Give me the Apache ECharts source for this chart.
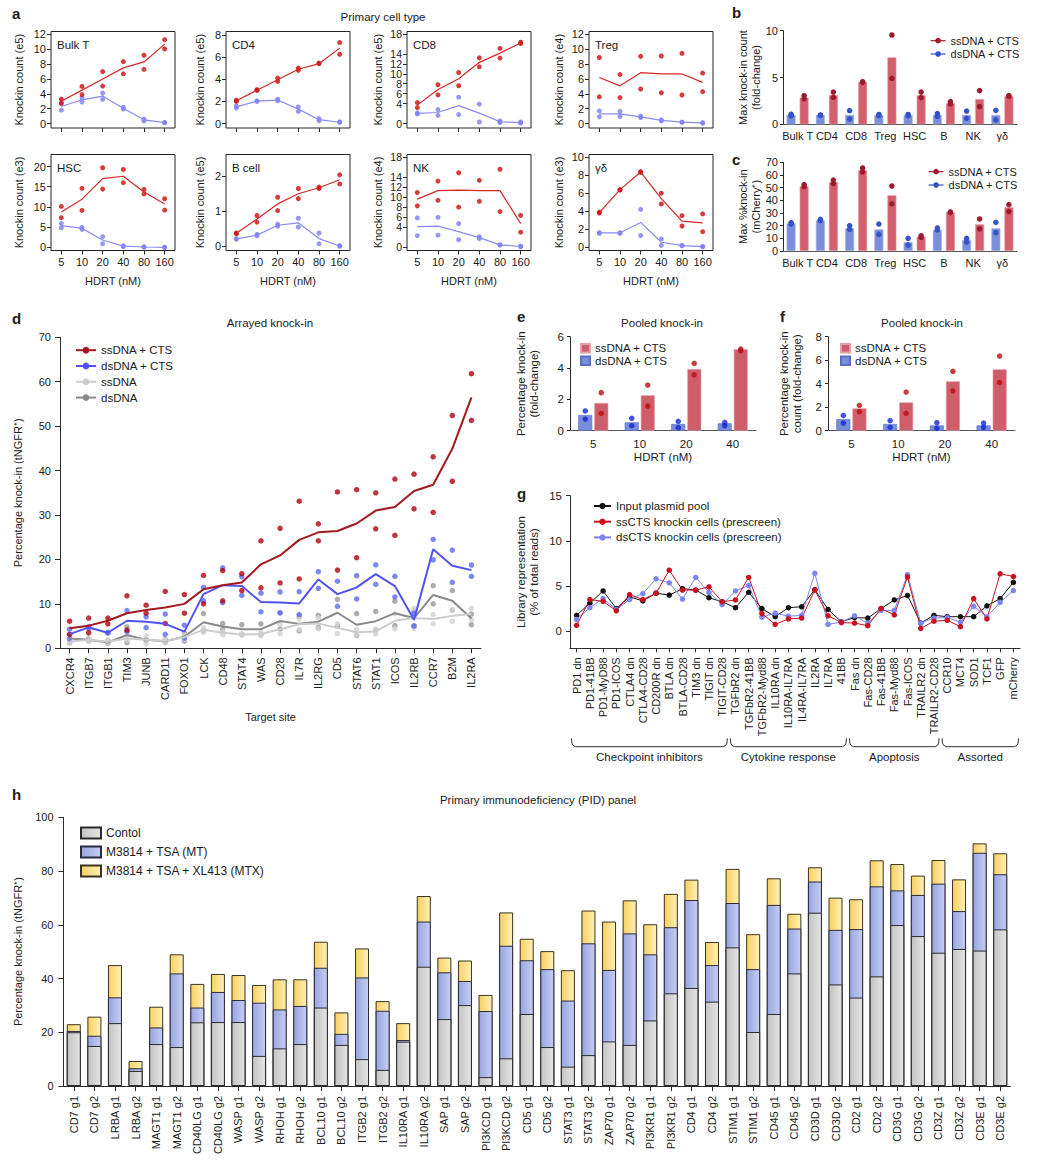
<!DOCTYPE html>
<html>
<head>
<meta charset="utf-8">
<title>Figure</title>
<script src="https://cdn.jsdelivr.net/npm/echarts@6.0.0/dist/echarts.min.js"></script>
<style>
html,body{margin:0;padding:0;background:#ffffff;}
#chart{width:1038px;height:1163px;}
</style>
</head>
<body>
<div id="chart"></div>
<script>
// ================= DATA =================
// ---- Panel a (HDRT dose series, two replicates per dose + mean line) ----
const aDoses = ['5','10','20','40','80','160'];
const aTicks12 = [0,2,4,6,8,10,12];
const aTicks8 = [0,2,4,6,8];
const aTicks18 = [0,2,4,6,8,10,12,14,16,18];
const aTicks20 = [0,5,10,15,20];
const aTicks2 = [0,1,2];
const aTicks10 = [0,2,4,6,8,10];

const bulkTSsPts = [[3.3,2.7],[5.0,3.9],[7.0,5.05],[8.35,6.7],[9.2,7.3],[11.3,10.05]];
const bulkTSsLine = [3.0,4.5,6.0,7.5,8.3,10.7];
const bulkTDsPts = [[2.8,1.8],[3.45,2.9],[4.1,3.25],[2.2,1.95],[0.6,0.35],[0.15,0.1]];
const bulkTDsLine = [2.3,3.2,3.7,2.05,0.5,0.12];

const cd4SsPts = [[2.1,2.0],[3.05,3.0],[4.1,3.8],[5.0,4.8],[5.45,5.4],[7.3,6.25]];
const cd4SsLine = [2.05,3.0,3.95,4.9,5.4,6.8];
const cd4DsPts = [[1.6,1.4],[2.05,2.0],[2.2,2.05],[1.5,1.1],[0.45,0.25],[0.15,0.1]];
const cd4DsLine = [1.5,2.03,2.12,1.3,0.35,0.12];

const cd8SsPts = [[4.2,3.2],[7.8,5.75],[10.25,7.6],[13.2,11.4],[15.1,13.15],[16.35,16.05]];
const cd8SsLine = [3.7,6.85,9.0,12.3,14.15,16.2];
const cd8DsPts = [[2.15,1.9],[2.8,1.65],[5.3,1.8],[3.9,0.3],[0.5,0.2],[0.3,0.1]];
const cd8DsLine = [2.05,2.22,3.6,2.1,0.35,0.2];

const tregSsPts = [[8.9,3.6],[6.6,3.5],[9.05,4.65],[9.1,4.15],[9.45,3.85],[6.8,4.3]];
const tregSsLine = [6.2,5.08,6.85,6.7,6.68,5.55];
const tregDsPts = [[1.7,0.9],[1.65,0.95],[1.0,0.8],[0.5,0.35],[0.2,0.15],[0.12,0.05]];
const tregDsLine = [1.3,1.3,0.9,0.42,0.18,0.08];

const hscSsPts = [[10.1,7.3],[14.6,9.1],[19.7,14.4],[19.3,16.0],[14.3,13.2],[12.0,9.2]];
const hscSsLine = [8.7,11.9,17.0,17.6,13.7,10.7];
const hscDsPts = [[5.9,4.8],[4.9,4.4],[2.6,0.85],[0.3,0.15],[0.05,0.0],[0.0,-0.1]];
const hscDsLine = [5.35,4.65,1.75,0.25,0.02,-0.05];

const bcellSsPts = [[0.38,0.36],[0.88,0.69],[1.4,1.02],[1.65,1.36],[1.69,1.65],[2.04,1.78]];
const bcellSsLine = [0.37,0.78,1.21,1.5,1.67,1.9];
const bcellDsPts = [[0.22,0.2],[0.34,0.3],[0.63,0.57],[0.8,0.55],[0.38,0.07],[0.02,0.0]];
const bcellDsLine = [0.21,0.32,0.6,0.67,0.22,0.01];

const nkSsPts = [[10.9,8.25],[13.2,9.35],[14.85,8.0],[13.35,9.15],[15.55,7.1],[6.35,3.0]];
const nkSsLine = [9.6,11.3,11.4,11.3,11.3,4.7];
const nkDsPts = [[5.85,2.3],[5.95,2.4],[4.7,1.5],[2.1,1.7],[0.5,0.4],[0.2,0.1]];
const nkDsLine = [4.1,4.2,3.1,1.9,0.45,0.15];

const gdSsPts = [[3.9,3.8],[6.4,6.35],[8.4,8.3],[6.0,4.8],[3.5,2.35],[3.7,1.72]];
const gdSsLine = [3.85,6.4,8.35,5.4,2.9,2.7];
const gdDsPts = [[1.6,1.55],[1.6,1.55],[4.2,1.3],[0.92,0.2],[0.2,0.15],[0.08,0.05]];
const gdDsLine = [1.6,1.6,2.75,0.55,0.17,0.07];

// ---- Panels b, c ----
const bcCells = ['Bulk T','CD4','CD8','Treg','HSC','B','NK','γδ'];
const bDsBar = [1,1,1,1,1,1,1,1];
const bSsBar = [2.85,3.13,4.52,7.15,3.12,2.25,2.7,3.0];
const bDsPts = [[1.08,0.9],[1.0,0.95],[1.46,0.57],[1.05,0.92],[1.05,0.92],[1.14,0.84],[1.42,0.64],[1.49,0.47]];
const bSsPts = [[3.06,2.72],[3.45,2.88],[4.55,4.48],[9.54,4.91],[3.45,2.85],[2.42,2.17],[3.6,1.89],[3.05,3.0]];
const cDsBar = [21.8,24.2,17.9,17.1,7.1,16.6,8.7,17.9];
const cSsBar = [51.1,54.5,63.7,44.0,11.3,30.5,21.1,34.5];
const cDsPts = [[22.4,21.3],[25.0,24.0],[20.0,17.1],[21.3,13.2],[10.0,4.7],[18.2,16.6],[10.0,7.1],[22.6,14.5]];
const cSsPts = [[52.4,50.8],[56.0,53.2],[65.5,62.4],[51.3,37.1],[12.1,10.8],[30.8,30.3],[25.3,17.4],[36.6,31.1]];

// ---- Panel d ----
const dTargets = ['CXCR4','ITGB7','ITGB1','TIM3','JUNB','CARD11','FOXO1','LCK','CD48','STAT4','WAS','CD28','IL7R','IL2RG','CD5','STAT6','STAT1','ICOS','IL2RB','CCR7','B2M','IL2RA'];
const dSsCtsLine = [4.5,5.1,6.2,7.9,8.6,9.2,10.0,13.3,14.2,14.8,18.9,20.9,24.4,26.1,26.4,28.1,31.0,31.8,35.4,36.8,44.9,56.5];
const dSsCtsPts = [[6.1,3.1],[6.8,3.5],[6.8,5.5],[11.8,4.1],[9.7,7.9],[12.8,5.6],[12.1,7.9],[16.4,10.0],[17.5,10.7],[16.8,13.0],[24.2,13.6],[27.0,14.7],[33.1,15.6],[28.0,24.2],[35.2,17.6],[35.7,20.4],[35.0,26.9],[38.1,25.4],[39.2,31.4],[43.1,30.6],[52.4,37.6],[61.8,51.3]];
const dDsCtsLine = [3.2,4.7,3.5,6.2,6.0,5.5,3.75,12.2,14.2,14.0,10.4,10.3,10.1,15.5,12.2,13.7,16.7,14.0,6.4,22.3,18.6,17.6];
const dDsCtsPts = [[4.3,2.1],[4.9,4.5],[3.6,3.4],[8.5,3.75],[7.1,4.65],[7.7,3.15],[5.2,2.3],[13.7,10.7],[18.1,10.3],[16.1,11.9],[12.4,8.2],[12.7,8.0],[12.75,7.6],[17.25,13.5],[15.1,9.45],[16.35,11.1],[18.8,14.4],[16.2,11.55],[7.8,5.0],[24.5,19.9],[22.1,14.85],[18.75,16.2]];
const dSsLine = [1.5,1.9,1.5,2.2,1.9,1.7,2.5,4.2,3.5,3.1,3.2,4.3,5.4,5.6,4.6,3.6,3.8,6.2,6.8,6.6,7.3,7.7];
const dSsPts = [[1.8,1.2],[2.3,1.6],[1.9,1.2],[2.7,1.8],[2.8,1.0],[2.2,1.3],[3.0,2.0],[4.6,3.6],[3.8,3.0],[3.3,3.0],[3.5,2.8],[5.4,3.3],[6.6,4.2],[6.8,4.4],[5.5,3.3],[4.2,3.0],[4.3,3.2],[7.8,4.4],[9.0,4.5],[7.6,5.5],[8.6,6.1],[9.0,6.4]];
const dDsLine = [2.2,1.9,1.3,3.0,1.9,1.6,2.6,5.85,4.9,4.3,4.3,6.15,5.5,6.0,8.0,5.3,6.1,7.9,6.8,12.0,10.7,6.7];
const dDsPts = [[3.2,1.2],[2.2,1.6],[1.6,1.1],[4.8,1.3],[2.0,1.8],[2.0,1.3],[3.5,1.6],[7.8,3.9],[5.6,4.2],[5.3,3.1],[5.5,3.1],[8.0,4.3],[7.2,3.9],[7.4,4.7],[11.0,5.0],[7.8,2.9],[8.3,4.0],[10.6,5.1],[8.4,5.1],[14.1,10.0],[13.0,8.6],[7.7,5.3]];

// ---- Panels e, f ----
const efDoses = ['5','10','20','40'];
const eDsBar = [1.0,0.53,0.43,0.47];
const eSsBar = [1.77,2.26,3.94,5.21];
const eDsPts = [[1.26,0.74],[0.79,0.32],[0.6,0.19],[0.32,0.53]];
const eSsPts = [[2.43,1.1],[2.91,1.57],[4.3,3.57],[5.1,5.21]];
const fDsBar = [0.99,0.57,0.45,0.45];
const fSsBar = [1.9,2.41,4.2,5.22];
const fDsPts = [[1.3,0.65],[0.85,0.28],[0.68,0.2],[0.65,0.28]];
const fSsPts = [[2.16,1.62],[3.29,1.48],[5.05,3.38],[6.35,4.11]];

// ---- Panel g ----
const gLabels = ['PD1 dn','PD1-41BB','PD1-MyD88','PD1-ICOS','CTLA4 dn','CTLA4-CD28','CD200R dn','BTLA dn','BTLA-CD28','TIM3 dn','TIGIT dn','TIGIT-CD28','TGFbR2 dn','TGFbR2-41BB','TGFbR2-Myd88','IL10RA dn','IL10RA-IL7RA','IL4RA-IL7RA','IL2RA','IL7RA','41BB','Fas dn','Fas-CD28','Fas-41BB','Fas-Myd88','Fas-ICOS','TRAILR2 dn','TRAILR2-CD28','CCR10','MCT4','SOD1','TCF1','GFP','mCherry'];
const gInput = [1.75,3.1,4.45,2.5,3.8,3.35,4.2,4.0,4.7,4.55,3.7,3.25,2.6,4.3,2.5,1.6,2.6,2.7,4.6,2.4,1.05,1.5,1.45,2.5,3.45,3.95,0.9,1.75,1.6,1.6,1.6,2.8,3.6,5.4];
const gSsCts = [0.65,3.5,3.3,2.25,4.05,3.5,4.2,6.75,4.55,4.55,4.9,3.25,3.45,5.95,1.95,0.75,1.35,1.45,4.55,1.7,0.95,0.9,0.6,2.5,1.8,6.0,0.3,1.1,1.2,0.5,3.6,1.35,6.35,6.05];
const gDsCts = [1.3,2.6,3.6,2.4,3.5,4.15,5.8,5.35,3.55,5.95,4.3,2.95,4.45,5.05,1.55,2.0,1.65,1.75,6.4,0.75,1.0,1.7,0.85,2.3,2.3,6.25,0.9,1.45,1.5,1.0,2.75,1.6,3.2,4.5];
const gGroups = ['Checkpoint inhibitors','Cytokine response','Apoptosis','Assorted'];
const gGroupFirst = ['PD1 dn','TGFbR2 dn','Fas dn','CCR10'];
const gGroupLast = ['TIGIT-CD28','41BB','TRAILR2-CD28','mCherry'];

// ---- Panel h ----
const hLabels = ['CD7 g1','CD7 g2','LRBA g1','LRBA g2','MAGT1 g1','MAGT1 g2','CD40LG g1','CD40LG g2','WASP g1','WASP g2','RHOH g1','RHOH g2','BCL10 g1','BCL10 g2','ITGB2 g1','ITGB2 g2','IL10RA g1','IL10RA g2','SAP g1','SAP g2','PI3KCD g1','PI3KCD g2','CD5 g1','CD5 g2','STAT3 g1','STAT3 g2','ZAP70 g1','ZAP70 g2','PI3KR1 g1','PI3KR1 g2','CD4 g1','CD4 g2','STIM1 g1','STIM1 g2','CD45 g1','CD45 g2','CD3D g1','CD3D g2','CD2 g1','CD2 g2','CD3G g1','CD3G g2','CD3Z g1','CD3Z g2','CD3E g1','CD3E g2'];
const hControl = [20.0,14.9,23.4,5.6,15.6,14.5,23.7,23.8,23.8,11.2,14.0,15.6,29.2,15.3,10.0,6.0,16.5,44.4,24.9,30.1,3.3,10.3,26.8,14.5,7.2,11.5,16.6,15.3,24.4,34.5,36.5,31.4,51.6,20.1,26.8,41.9,64.5,37.8,32.9,40.8,59.9,55.8,49.6,51.0,50.4,58.3];
const hMT = [20.5,18.7,33.0,6.6,21.8,41.9,29.2,35.0,32.0,31.0,28.5,29.8,44.0,19.4,40.4,28.0,17.1,61.2,42.3,39.1,27.9,52.2,46.8,43.5,31.8,53.1,43.2,56.8,49.0,59.1,69.2,45.0,68.1,43.5,67.4,58.6,76.1,58.1,58.4,74.3,72.8,71.1,75.3,65.1,86.8,78.8];
const hMTX = [23.0,25.8,45.0,9.3,29.5,49.0,38.0,41.7,41.3,37.6,39.7,39.7,53.7,27.4,51.2,31.6,23.4,70.7,47.8,46.7,33.9,64.6,54.8,50.2,43.1,65.3,61.2,69.1,60.2,71.5,76.8,53.6,80.8,56.5,77.3,64.1,81.4,70.1,69.5,84.0,82.6,78.3,84.1,76.9,90.3,86.6];

// ================= BUILD =================
const FONT = '"Liberation Sans", Arial, Helvetica, sans-serif';
const TXT = '#1b1b1b';
const AX = '#2b2b2b';
const option = {animation:false, backgroundColor:'#ffffff', textStyle:{fontFamily:FONT, color:TXT},
  grid:[], xAxis:[], yAxis:[], series:[], legend:[]};
const graphics = [];
const nameFmt = function(n){ return n.split('#')[0]; };

function addGrid(g){ option.grid.push(Object.assign({containLabel:false, outerBoundsMode:'none'}, g)); return option.grid.length-1; }
function addX(a){ option.xAxis.push(a); return option.xAxis.length-1; }
function addY(a){ option.yAxis.push(a); return option.yAxis.length-1; }
function txt(s, x, y, size, weight, align){
  graphics.push({type:'text', x:x, y:y, silent:true, z:10,
    style:{text:s, fill:TXT, fontSize:size, fontWeight:weight||'normal', fontFamily:FONT, align:align||'left', verticalAlign:'middle'}});
}
function pts(pairs){ const o=[]; pairs.forEach(function(p,i){ p.forEach(function(v){ o.push([i,v]); }); }); return o; }
function nts(size, lh){ return {color:TXT, fontSize:size||11, fontFamily:FONT, lineHeight:lh||13}; }
function lbl(size, margin, extra){ return Object.assign({color:TXT, fontSize:size||11, fontFamily:FONT, margin:margin, showMinLabel:true, showMaxLabel:true, hideOverlap:false}, extra||{}); }

// ---------- Panel a ----------
const A_LEFT = [51, 226, 407, 589], A_W = 124, A_TOP = [31.5, 154.5], A_H = [96.5, 96];
const A_GAP = [26, 20, 23, 24];
const aRed = '#cc0b0b', aRedLine = '#d42828', aBlue = '#7c7cf6', aBlueLine = '#8a8af6';
function panelA(col, row, label, unit, ssPts, ssLine, dsPts, dsLine, ymin, ymax, ticks, tickFont){
  const gi = addGrid({left:A_LEFT[col], top:A_TOP[row], width:A_W, height:A_H[row], show:true, borderColor:'#222', borderWidth:1});
  const xi = addX({gridIndex:gi, type:'category', data:aDoses, boundaryGap:true,
    axisLine:{show:false, onZero:false},
    axisTick:{show:true, alignWithLabel:true, length:4, lineStyle:{color:AX}},
    axisLabel:lbl(11, 6, {show:row===1, interval:0}), splitLine:{show:false},
    name:row===1?'HDRT (nM)':'', nameLocation:'middle', nameGap:24, nameTextStyle:nts(11), nameMoveOverlap:false});
  const yi = addY({gridIndex:gi, type:'value', min:ymin, max:ymax, splitLine:{show:false},
    axisLine:{show:false}, axisTick:{show:true, length:4, customValues:ticks, lineStyle:{color:AX}},
    axisLabel:lbl(tickFont||11, 5, {customValues:ticks}),
    name:'Knockin count ('+unit+')', nameLocation:'middle', nameGap:A_GAP[col], nameTextStyle:nts(11), nameMoveOverlap:false});
  option.series.push(
    {name:label+' ds line', type:'line', xAxisIndex:xi, yAxisIndex:yi, data:dsLine, symbol:'none', silent:true, lineStyle:{color:aBlueLine, width:1.2}, itemStyle:{color:aBlueLine}},
    {name:label+' ss line', type:'line', xAxisIndex:xi, yAxisIndex:yi, data:ssLine, symbol:'none', silent:true, lineStyle:{color:aRedLine, width:1.2}, itemStyle:{color:aRedLine}},
    {name:label+' ds pts', type:'scatter', xAxisIndex:xi, yAxisIndex:yi, data:pts(dsPts), symbolSize:5, silent:true, itemStyle:{color:aBlue}},
    {name:label+' ss pts', type:'scatter', xAxisIndex:xi, yAxisIndex:yi, data:pts(ssPts), symbolSize:5, silent:true, itemStyle:{color:aRed}}
  );
  txt(label, A_LEFT[col]+6, A_TOP[row]+13.5, 11.5);
}
panelA(0,0,'Bulk T','e5',bulkTSsPts,bulkTSsLine,bulkTDsPts,bulkTDsLine,-0.6,12.4,aTicks12);
panelA(1,0,'CD4','e5',cd4SsPts,cd4SsLine,cd4DsPts,cd4DsLine,-0.4,8.3,aTicks8);
panelA(2,0,'CD8','e5',cd8SsPts,cd8SsLine,cd8DsPts,cd8DsLine,-0.9,18.5,aTicks18,10.5);
panelA(3,0,'Treg','e4',tregSsPts,tregSsLine,tregDsPts,tregDsLine,-0.6,12.4,aTicks12);
panelA(0,1,'HSC','e3',hscSsPts,hscSsLine,hscDsPts,hscDsLine,-0.85,23.0,aTicks20);
panelA(1,1,'B cell','e5',bcellSsPts,bcellSsLine,bcellDsPts,bcellDsLine,-0.12,2.62,aTicks2);
panelA(2,1,'NK','e4',nkSsPts,nkSsLine,nkDsPts,nkDsLine,-0.66,18.5,aTicks18,10.5);
panelA(3,1,'γδ','e3',gdSsPts,gdSsLine,gdDsPts,gdDsLine,-0.37,10.3,aTicks10);

// ---------- Panels b, c ----------
const bcBlue = '#7a8edb', bcRed = '#d35f6c', bcBlueDot = '#3353c8', bcRedDot = '#9e1b2e';
function panelBC(tag, top, height, ymax, interval, yname, dsBar, ssBar, dsPts, ssPts, legLeft, legTop){
  const gi = addGrid({left:783, top:top, width:234, height:height});
  const xi = addX({gridIndex:gi, type:'category', data:bcCells, boundaryGap:true,
    axisLine:{show:true, lineStyle:{color:'#555', width:1}}, axisTick:{show:false},
    axisLabel:lbl(11, 6, {interval:0}), splitLine:{show:false}});
  const yi = addY({gridIndex:gi, type:'value', min:0, max:ymax, interval:interval, splitLine:{show:false},
    axisLine:{show:true, lineStyle:{color:AX}}, axisTick:{show:true, length:3, lineStyle:{color:AX}},
    axisLabel:lbl(11, 5), name:yname, nameLocation:'middle', nameGap:21, nameTextStyle:nts(11, 12.5), nameMoveOverlap:false});
  option.series.push(
    {name:'dsDNA bar#'+tag, type:'bar', xAxisIndex:xi, yAxisIndex:yi, data:dsBar, barWidth:9, barGap:'45%', silent:true,
      itemStyle:{color:bcBlue, borderColor:'#a9b5e6', borderWidth:0.6}},
    {name:'ssDNA bar#'+tag, type:'bar', xAxisIndex:xi, yAxisIndex:yi, data:ssBar, barWidth:9, barGap:'45%', silent:true,
      itemStyle:{color:bcRed, borderColor:'#e3a5ad', borderWidth:0.6}},
    {name:'dsDNA + CTS#'+tag, type:'line', xAxisIndex:xi, yAxisIndex:yi, data:pts(dsPts), symbol:'circle', symbolSize:5.5,
      symbolOffset:[-6.5,0], showSymbol:true, silent:true, z:5, lineStyle:{opacity:0, color:bcBlueDot, width:1.2},
      itemStyle:{color:bcBlueDot}},
    {name:'ssDNA + CTS#'+tag, type:'line', xAxisIndex:xi, yAxisIndex:yi, data:pts(ssPts), symbol:'circle', symbolSize:5.5,
      symbolOffset:[6.5,0], showSymbol:true, silent:true, z:5, lineStyle:{opacity:0, color:bcRedDot, width:1.2},
      itemStyle:{color:bcRedDot}}
  );
  option.legend.push({orient:'vertical', left:legLeft, top:legTop, padding:0, itemWidth:15, itemHeight:7, itemGap:1.3,
    selectedMode:false, formatter:nameFmt, textStyle:{fontSize:11, color:TXT, fontFamily:FONT, lineHeight:12},
    lineStyle:{opacity:1, width:1.2}, data:['ssDNA + CTS#'+tag, 'dsDNA + CTS#'+tag]});
}
panelBC('b', 30.7, 93.6, 10, 5, 'Max knock-in count\n(fold-change)', bDsBar, bSsBar, bDsPts, bSsPts, 930, 34.7);
panelBC('c', 162.3, 88.7, 70, 10, 'Max %knock-in\n(mCherry⁺)', cDsBar, cSsBar, cDsPts, cSsPts, 928, 165.7);

// ---------- Panel d ----------
(function(){
  const gi = addGrid({left:60, top:337.3, width:421, height:311});
  const xi = addX({gridIndex:gi, type:'category', data:dTargets, boundaryGap:true,
    axisLine:{show:true, onZero:false, lineStyle:{color:AX}}, axisTick:{show:true, alignWithLabel:true, length:5, lineStyle:{color:AX}},
    axisLabel:lbl(11, 9, {rotate:90, interval:0}), splitLine:{show:false},
    name:'Target site', nameLocation:'middle', nameGap:62, nameTextStyle:nts(11), nameMoveOverlap:false});
  const yi = addY({gridIndex:gi, type:'value', min:0, max:70, interval:10, splitLine:{show:false},
    axisLine:{show:true, lineStyle:{color:AX}}, axisTick:{show:true, length:5, lineStyle:{color:AX}},
    axisLabel:lbl(11, 9), name:'Percentage knock-in (tNGFR⁺)', nameLocation:'middle', nameGap:36, nameTextStyle:nts(11), nameMoveOverlap:false});
  const defs = [
    ['dsDNA#d', dDsLine, dDsPts, '#8a8a8a', '#999999'],
    ['ssDNA#d', dSsLine, dSsPts, '#cdcdcd', '#d2d2d2'],
    ['dsDNA + CTS#d', dDsCtsLine, dDsCtsPts, '#5252f2', '#5d69f2'],
    ['ssDNA + CTS#d', dSsCtsLine, dSsCtsPts, '#a3181e', '#b1000e']
  ];
  defs.forEach(function(d){
    option.series.push({name:d[0], type:'line', xAxisIndex:xi, yAxisIndex:yi, data:d[1], symbol:'none', silent:true,
      lineStyle:{color:d[3], width:2}, itemStyle:{color:d[3]}});
  });
  defs.forEach(function(d){
    option.series.push({name:d[0]+' pts', type:'scatter', xAxisIndex:xi, yAxisIndex:yi, data:pts(d[2]), symbolSize:5.5, silent:true,
      itemStyle:{color:d[4]}});
  });
  option.legend.push({orient:'vertical', left:75, top:343.7, padding:0, itemWidth:20, itemHeight:8.5, itemGap:2.8,
    selectedMode:false, formatter:nameFmt, textStyle:{fontSize:11.5, color:TXT, fontFamily:FONT, lineHeight:13},
    lineStyle:{width:2}, data:['ssDNA + CTS#d','dsDNA + CTS#d','ssDNA#d','dsDNA#d']});
})();

// ---------- Panels e, f ----------
const efBlue = '#7a8ddb', efRed = '#d05d6a', efBlueDot = '#1326cf', efRedDot = '#bb0a14';
function panelEF(tag, left, width, ymax, yname, nameGap, dsBar, ssBar, dsPts, ssPts, legLeft){
  const gi = addGrid({left:left, top:336.7, width:width, height:94});
  const xi = addX({gridIndex:gi, type:'category', data:efDoses, boundaryGap:true,
    axisLine:{show:true, lineStyle:{color:'#555'}}, axisTick:{show:false},
    axisLabel:lbl(11.5, 7.5, {interval:0}), splitLine:{show:false},
    name:'HDRT (nM)', nameLocation:'middle', nameGap:20, nameTextStyle:nts(11.5), nameMoveOverlap:false});
  const yi = addY({gridIndex:gi, type:'value', min:0, max:ymax, interval:2, splitLine:{show:false},
    axisLine:{show:true, lineStyle:{color:AX}}, axisTick:{show:true, length:3, lineStyle:{color:AX}},
    axisLabel:lbl(11.5, 6), name:yname, nameLocation:'middle', nameGap:nameGap, nameTextStyle:nts(11.5, 12.5), nameMoveOverlap:false});
  option.series.push(
    {name:'dsDNA + CTS#'+tag, type:'bar', xAxisIndex:xi, yAxisIndex:yi, data:dsBar, barWidth:14, barGap:'15%', silent:true,
      itemStyle:{color:efBlue, borderColor:'#5a6fc4', borderWidth:0.6}},
    {name:'ssDNA + CTS#'+tag, type:'bar', xAxisIndex:xi, yAxisIndex:yi, data:ssBar, barWidth:14, barGap:'15%', silent:true,
      itemStyle:{color:efRed, borderColor:'#e0a2a9', borderWidth:0.6}},
    {name:'ds pts#'+tag, type:'scatter', xAxisIndex:xi, yAxisIndex:yi, data:pts(dsPts), symbolSize:5.5, symbolOffset:[-8,0], silent:true, z:5,
      itemStyle:{color:efBlueDot}},
    {name:'ss pts#'+tag, type:'scatter', xAxisIndex:xi, yAxisIndex:yi, data:pts(ssPts), symbolSize:5.5, symbolOffset:[8,0], silent:true, z:5,
      itemStyle:{color:efRedDot}}
  );
  option.legend.push({orient:'vertical', left:legLeft, top:342.3, padding:0, itemWidth:9, itemHeight:8.5, itemGap:0.4, icon:'rect',
    selectedMode:false, formatter:nameFmt, textStyle:{fontSize:11.5, color:TXT, fontFamily:FONT, lineHeight:12},
    data:['ssDNA + CTS#'+tag, 'dsDNA + CTS#'+tag]});
}
panelEF('e', 570, 186, 6, 'Percentage knock-in\n(fold-change)', 30, eDsBar, eSsBar, eDsPts, eSsPts, 580);
panelEF('f', 828, 187, 8, 'Percentage knock-in\ncount (fold-change)', 25, fDsBar, fSsBar, fDsPts, fSsPts, 840);

// ---------- Panel g ----------
let gXIndex = 0;
(function(){
  const gi = addGrid({left:570, top:495.7, width:450, height:152.6});
  const xi = addX({gridIndex:gi, type:'category', data:gLabels, boundaryGap:true,
    axisLine:{show:true, onZero:false, lineStyle:{color:AX}}, axisTick:{show:true, alignWithLabel:true, length:4, lineStyle:{color:AX}},
    axisLabel:lbl(11, 9, {rotate:90, interval:0}), splitLine:{show:false}});
  gXIndex = xi;
  const yi = addY({gridIndex:gi, type:'value', min:-1.9, max:15, splitLine:{show:false},
    axisLine:{show:true, lineStyle:{color:AX}}, axisTick:{show:true, length:4, customValues:[0,5,10,15], lineStyle:{color:AX}},
    axisLabel:lbl(11.5, 8, {customValues:[0,5,10,15]}),
    name:'Library representation\n(% of total reads)', nameLocation:'middle', nameGap:30, nameTextStyle:nts(11.5, 12.5), nameMoveOverlap:false});
  const defs = [
    ['Input plasmid pool', gInput, '#111111'],
    ['dsCTS knockin cells (prescreen)', gDsCts, '#7b85f3'],
    ['ssCTS knockin cells (prescreen)', gSsCts, '#cc1020']
  ];
  defs.forEach(function(d){
    option.series.push({name:d[0], type:'line', xAxisIndex:xi, yAxisIndex:yi, data:d[1], symbol:'circle', symbolSize:5.5,
      showSymbol:true, silent:true, lineStyle:{color:d[2], width:1}, itemStyle:{color:d[2]}});
  });
  option.legend.push({orient:'vertical', left:593, top:499.5, padding:0, itemWidth:17, itemHeight:8, itemGap:2.7,
    selectedMode:false, textStyle:{fontSize:11.5, color:TXT, fontFamily:FONT, lineHeight:13},
    data:['Input plasmid pool','ssCTS knockin cells (prescreen)','dsCTS knockin cells (prescreen)']});
})();

// ---------- Panel h ----------
(function(){
  const gi = addGrid({left:63.5, top:817.3, width:947, height:268.7});
  const xi = addX({gridIndex:gi, type:'category', data:hLabels, boundaryGap:true,
    axisLine:{show:true, lineStyle:{color:AX}}, axisTick:{show:true, alignWithLabel:true, length:5, lineStyle:{color:AX}},
    axisLabel:lbl(11, 10, {rotate:90, interval:0}), splitLine:{show:false}});
  const yi = addY({gridIndex:gi, type:'value', min:0, max:100, interval:20, splitLine:{show:false},
    axisLine:{show:true, lineStyle:{color:AX}}, axisTick:{show:true, length:5, lineStyle:{color:AX}},
    axisLabel:lbl(11, 10), name:'Percentage knock-in (tNGFR⁺)', nameLocation:'middle', nameGap:39, nameTextStyle:nts(11), nameMoveOverlap:false});
  function grad(a,b){ return new echarts.graphic.LinearGradient(0,0,1,0,[{offset:0,color:a},{offset:1,color:b}]); }
  const bw = {barWidth:14, barGap:'-100%', silent:true, xAxisIndex:xi, yAxisIndex:yi, type:'bar'};
  option.series.push(
    Object.assign({name:'M3814 + TSA + XL413 (MTX)', data:hMTX, itemStyle:{color:grad('#f9d05e','#fff0b8'), borderColor:'#3a3320', borderWidth:1}}, bw),
    Object.assign({name:'M3814 + TSA (MT)', data:hMT, itemStyle:{color:grad('#97a5e0','#c6cef3'), borderColor:'#2a2a3a', borderWidth:1}}, bw),
    Object.assign({name:'Contol', data:hControl, itemStyle:{color:grad('#c4c4c4','#e4e4e4'), borderColor:'#2a2a2a', borderWidth:1}}, bw)
  );
  option.legend.push({orient:'vertical', left:80, top:826.5, padding:0, itemWidth:20, itemHeight:11, itemGap:6, icon:'rect',
    selectedMode:false, textStyle:{fontSize:12, color:TXT, fontFamily:FONT, lineHeight:13},
    data:['Contol','M3814 + TSA (MT)','M3814 + TSA + XL413 (MTX)']});
})();

// ---------- Text: panel letters & titles ----------
txt('a', 12, 13.5, 15, 'bold');
txt('Primary cell type', 383, 16.5, 11.5, 'normal', 'center');
txt('b', 732, 12.7, 15, 'bold');
txt('c', 732, 159.3, 15, 'bold');
txt('d', 12, 318.3, 15, 'bold');
txt('Arrayed knock-in', 270, 323.3, 11.5, 'normal', 'center');
txt('e', 517, 316.7, 15, 'bold');
txt('Pooled knock-in', 662, 323.3, 11.5, 'normal', 'center');
txt('f', 780, 316.7, 15, 'bold');
txt('Pooled knock-in', 922, 323.3, 11.5, 'normal', 'center');
txt('g', 517, 493.3, 15, 'bold');
txt('h', 12, 794.3, 15, 'bold');
txt('Primary immunodeficiency (PID) panel', 538, 800, 11.5, 'normal', 'center');

// ---------- Render ----------
const chart = echarts.init(document.getElementById('chart'), null, {renderer:'svg', width:1038, height:1163});
chart.setOption(option);

// group braces under panel g, positioned through the category axis
(function(){
  const px = function(name){ return chart.convertToPixel({xAxisIndex:gXIndex}, name); };
  const step = px(gLabels[1]) - px(gLabels[0]);
  const y0 = 738.3, y1 = 746.7;
  gGroups.forEach(function(g, k){
    const L = px(gGroupFirst[k]) - step/2 + 1.5;
    const R = px(gGroupLast[k]) + step/2 - 1.5;
    graphics.push({type:'polyline', silent:true, z:10,
      shape:{points:[[L,y0],[L+0.4,y1-3.6],[L+1.6,y1-1.3],[L+4,y1],[R-4,y1],[R-1.6,y1-1.3],[R-0.4,y1-3.6],[R,y0]]},
      style:{stroke:'#333333', lineWidth:1, fill:'none'}});
    txt(g, (L+R)/2, 756.5, 11.5, 'normal', 'center');
  });
})();
chart.setOption({graphic:graphics});
</script>
</body>
</html>
